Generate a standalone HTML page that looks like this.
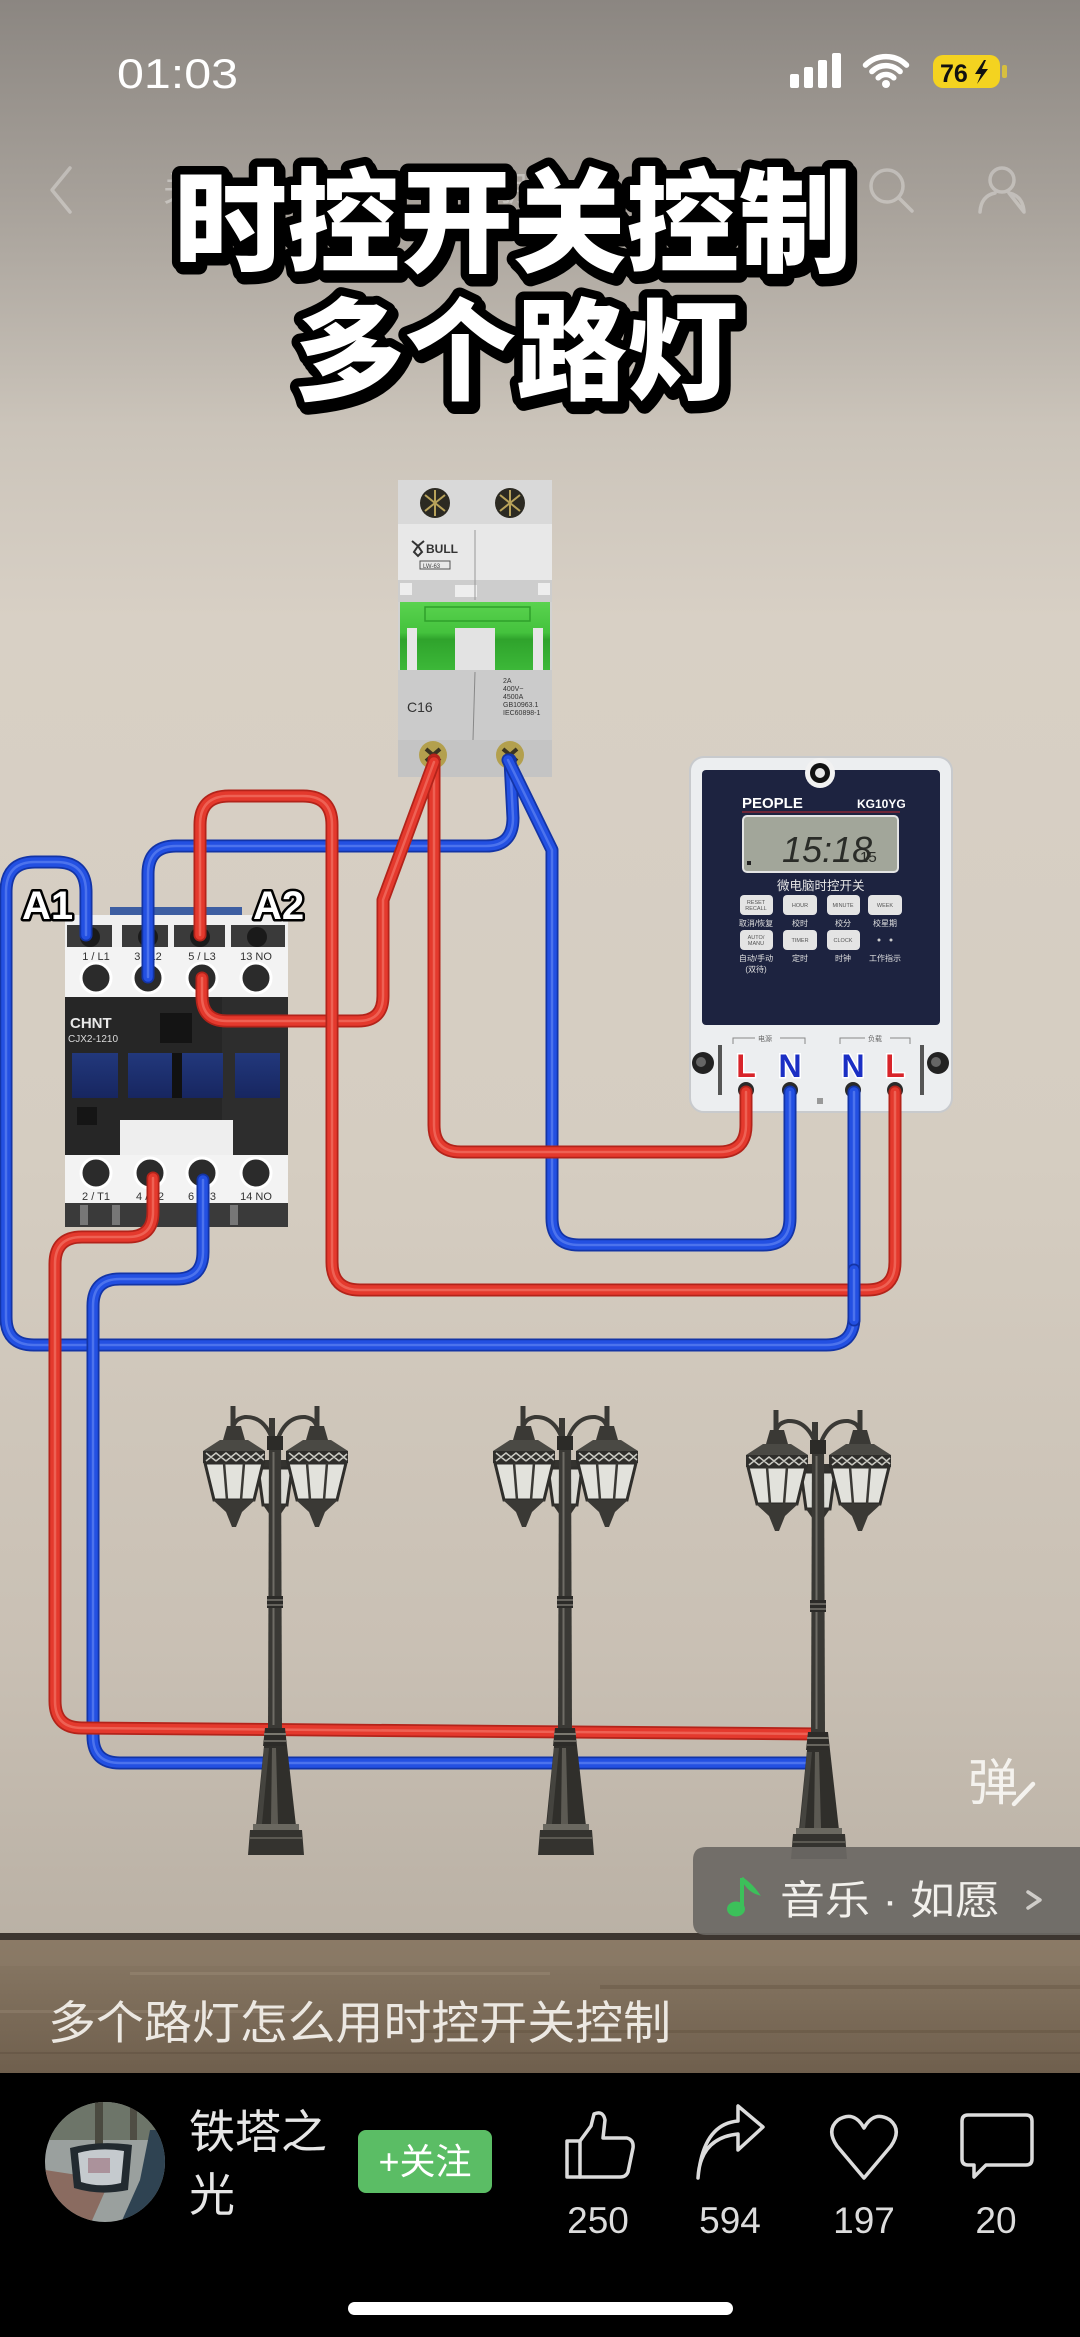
<!DOCTYPE html>
<html><head><meta charset="utf-8">
<style>
html,body{margin:0;padding:0;background:#000;}
svg{display:block;}
.cjk{font-family:"Liberation Sans","Noto Sans CJK SC",sans-serif;}
.lat{font-family:"Liberation Sans",sans-serif;}
.bb{stroke:#1334a6;stroke-width:13;fill:none;stroke-linecap:round;stroke-linejoin:round;}
.bm{stroke:#2350e2;stroke-width:9.5;fill:none;stroke-linecap:round;stroke-linejoin:round;}
.bh{stroke:#6f90f6;stroke-width:2.5;fill:none;stroke-linecap:round;stroke-linejoin:round;opacity:.55;}
.rb{stroke:#b3231a;stroke-width:13;fill:none;stroke-linecap:round;stroke-linejoin:round;}
.rm{stroke:#e4392d;stroke-width:9.5;fill:none;stroke-linecap:round;stroke-linejoin:round;}
.rh{stroke:#f68474;stroke-width:2.5;fill:none;stroke-linecap:round;stroke-linejoin:round;opacity:.55;}
</style></head>
<body>
<svg width="1080" height="2337" viewBox="0 0 1080 2337" xmlns="http://www.w3.org/2000/svg">
<defs>
  <linearGradient id="wall" x1="0" y1="0" x2="0" y2="1937" gradientUnits="userSpaceOnUse">
    <stop offset="0" stop-color="#8b8681"/>
    <stop offset="0.1" stop-color="#a6a099"/>
    <stop offset="0.22" stop-color="#cbc4ba"/>
    <stop offset="0.32" stop-color="#d8d0c5"/>
    <stop offset="0.6" stop-color="#d5cdc1"/>
    <stop offset="0.85" stop-color="#c9c0b4"/>
    <stop offset="1" stop-color="#bab1a5"/>
  </linearGradient>
  <linearGradient id="floor" x1="0" y1="1937" x2="0" y2="2073" gradientUnits="userSpaceOnUse">
    <stop offset="0" stop-color="#8a7a66"/>
    <stop offset="1" stop-color="#6f5f4d"/>
  </linearGradient>
  <linearGradient id="green" x1="0" y1="602" x2="0" y2="670" gradientUnits="userSpaceOnUse">
    <stop offset="0" stop-color="#5ad34f"/>
    <stop offset="0.45" stop-color="#44c23d"/>
    <stop offset="0.55" stop-color="#2fa32c"/>
    <stop offset="1" stop-color="#3cb838"/>
  </linearGradient>
  <linearGradient id="win" x1="0" y1="1053" x2="0" y2="1098" gradientUnits="userSpaceOnUse">
    <stop offset="0" stop-color="#22387c"/>
    <stop offset="1" stop-color="#172660"/>
  </linearGradient>
  <clipPath id="avc"><circle cx="105" cy="2162" r="60"/></clipPath>

  <path id="w1" d="M86 935 L86 892 Q86 862 56 862 L35 862 Q6 862 6 892 L6 1317 Q6 1345 34 1345 L826 1345 Q854 1345 854 1317 L854 1092"/>
  <path id="w1b" d="M854 1320 L854 1270"/>
  <path id="w3" d="M203 1180 L203 1252 Q203 1279 176 1279 L120 1279 Q93 1279 93 1306 L93 1736 Q93 1763 120 1763 L818 1763"/>
  <path id="w4" d="M148 977 L148 874 Q148 846 176 846 L486 846 Q513 846 513 818 L510 760"/>
  <path id="w5" d="M508 760 L552 850 L552 1218 Q552 1245 579 1245 L763 1245 Q790 1245 790 1218 L790 1092"/>
  <path id="w2" d="M153 1178 L153 1212 Q153 1237 128 1237 L82 1237 Q55 1237 55 1264 L55 1701 Q55 1728 82 1728 L818 1734"/>
  <path id="w6" d="M434 760 L434 1125 Q434 1152 461 1152 L719 1152 Q746 1152 746 1125 L746 1092"/>
  <path id="w7" d="M434 762 L383 900 L383 996 Q383 1021 358 1021 L227 1021 Q202 1021 202 996 L202 978"/>
  <path id="w8" d="M200 935 L200 825 Q200 796 229 796 L303 796 Q332 796 332 825 L332 1262 Q332 1290 360 1290 L867 1290 Q895 1290 895 1262 L895 1092"/>

  <g id="lamp">
    <path d="M-14 60 L14 60 L20 68 L-20 68 Z" fill="#34332f"/>
    <path d="M-17 68 L17 68 L12 105 L-12 105 Z" fill="#dcdcd6" stroke="#2f2e2b" stroke-width="3"/>
    <path d="M-12 105 L12 105 L3 118 L-3 118 Z" fill="#34332f"/>
    <path d="M0 48 Q-8 16 -30 17 Q-42 19 -42 30" stroke="#3a3935" stroke-width="4" fill="none"/>
    <path d="M0 48 Q8 16 30 17 Q42 19 42 30" stroke="#3a3935" stroke-width="4" fill="none"/>
    <line x1="-42" y1="6" x2="-42" y2="30" stroke="#3a3935" stroke-width="5"/>
    <line x1="42" y1="6" x2="42" y2="30" stroke="#3a3935" stroke-width="5"/>
    <line x1="-3" y1="18" x2="-3" y2="40" stroke="#3a3935" stroke-width="6"/>
    <path d="M-6 38 L6 38 L7 330 L-7 330 Z" fill="#3a3935"/>
    <rect x="-8" y="36" width="16" height="14" fill="#2c2b28"/>
    <line x1="-1.5" y1="52" x2="-1.5" y2="325" stroke="#6e6c65" stroke-width="2"/>
    <rect x="-8" y="196" width="16" height="12" fill="#2c2b28"/>
    <line x1="-8" y1="200" x2="8" y2="200" stroke="#77756d" stroke-width="1.5"/>
    <line x1="-8" y1="205" x2="8" y2="205" stroke="#77756d" stroke-width="1.5"/>
    <path d="M-10 328 L10 328 L12 346 L-12 346 Z" fill="#2c2b28"/>
    <line x1="-11" y1="334" x2="11" y2="334" stroke="#7a786f" stroke-width="2"/>
    <line x1="-11" y1="341" x2="11" y2="341" stroke="#7a786f" stroke-width="1.5"/>
    <path d="M-11 346 L12 346 L21 426 L-19 426 Z" fill="#302f2b"/>
    <path d="M-3 348 L1 348 L3 424 L-4 424 Z" fill="#5c5a53"/>
    <path d="M-11 348 L-6 348 L-13 424 L-18 424 Z" fill="#45443f"/>
    <rect x="-22" y="424" width="46" height="6" fill="#6a6860"/>
    <path d="M-25 430 L27 430 L29 455 L-27 455 Z" fill="#34332f"/>
    <line x1="-25" y1="438" x2="27" y2="438" stroke="#5b5952" stroke-width="2"/>
    <g transform="translate(-41,0)">
      <path d="M-7 26 L7 26 L11 40 L-11 40 Z" fill="#3a3935"/>
      <path d="M-14 40 L14 40 L31 51 L-31 51 Z" fill="#4a4944"/>
      <rect x="-31" y="51" width="62" height="12" fill="#2f2e2b"/>
      <path d="M-28 53 L-18 61 L-8 53 L2 61 L12 53 L22 61 L30 54 M-28 61 L-18 53 L-8 61 L2 53 L12 61 L22 53 L30 60" stroke="#c9c9c2" stroke-width="1.5" fill="none"/>
      <path d="M-29 63 L29 63 L20 100 L-20 100 Z" fill="#e2e2dc" stroke="#2f2e2b" stroke-width="3"/>
      <line x1="-10" y1="63" x2="-7" y2="100" stroke="#3a3935" stroke-width="2.5"/>
      <line x1="10" y1="63" x2="7" y2="100" stroke="#3a3935" stroke-width="2.5"/>
      <path d="M-21 100 L21 100 L8 112 L2 127 L-2 127 L-8 112 Z" fill="#3a3935"/>
    </g>
    <g transform="translate(42,0)">
      <path d="M-7 26 L7 26 L11 40 L-11 40 Z" fill="#3a3935"/>
      <path d="M-14 40 L14 40 L31 51 L-31 51 Z" fill="#4a4944"/>
      <rect x="-31" y="51" width="62" height="12" fill="#2f2e2b"/>
      <path d="M-28 53 L-18 61 L-8 53 L2 61 L12 53 L22 61 L30 54 M-28 61 L-18 53 L-8 61 L2 53 L12 61 L22 53 L30 60" stroke="#c9c9c2" stroke-width="1.5" fill="none"/>
      <path d="M-29 63 L29 63 L20 100 L-20 100 Z" fill="#e2e2dc" stroke="#2f2e2b" stroke-width="3"/>
      <line x1="-10" y1="63" x2="-7" y2="100" stroke="#3a3935" stroke-width="2.5"/>
      <line x1="10" y1="63" x2="7" y2="100" stroke="#3a3935" stroke-width="2.5"/>
      <path d="M-21 100 L21 100 L8 112 L2 127 L-2 127 L-8 112 Z" fill="#3a3935"/>
    </g>
  </g>
</defs>

<rect x="0" y="0" width="1080" height="1937" fill="url(#wall)"/>
<rect x="0" y="1933" width="1080" height="7" fill="#3d3630"/>
<rect x="0" y="1940" width="1080" height="133" fill="url(#floor)"/>
<rect x="0" y="1940" width="1080" height="26" fill="#8c7c68" opacity="0.6"/>
<rect x="130" y="1972" width="420" height="3" fill="#9a8a75" opacity="0.5"/>
<rect x="600" y="1985" width="480" height="4" fill="#685846" opacity="0.5"/>
<rect x="0" y="2010" width="300" height="3" fill="#938370" opacity="0.5"/>
<rect x="420" y="2030" width="660" height="3" fill="#63533f" opacity="0.5"/>
<rect x="0" y="2052" width="1080" height="2" fill="#5f503f" opacity="0.5"/>
<rect x="0" y="2073" width="1080" height="264" fill="#000"/>

<text x="117" y="88" class="lat" font-size="42" fill="#fff" textLength="121" lengthAdjust="spacingAndGlyphs">01:03</text>
<g fill="#fff">
  <rect x="790" y="74" width="9" height="14" rx="2"/>
  <rect x="804" y="67" width="9" height="21" rx="2"/>
  <rect x="818" y="60" width="9" height="28" rx="2"/>
  <rect x="832" y="53" width="9" height="35" rx="2"/>
</g>
<g fill="none" stroke="#fff" stroke-width="5.5" stroke-linecap="round">
  <path d="M878.2 77.8 A11 11 0 0 1 893.8 77.8"/>
  <path d="M871.9 71.5 A20 20 0 0 1 900.1 71.5"/>
  <path d="M865.5 65.1 A29 29 0 0 1 906.5 65.1"/>
</g>
<circle cx="886" cy="84" r="4" fill="#fff"/>
<rect x="933" y="55" width="67" height="33" rx="10" fill="#f4d320"/>
<rect x="1002" y="65" width="5" height="13" rx="2" fill="#f4d320" opacity="0.7"/>
<text x="940" y="82" class="lat" font-size="25" font-weight="bold" fill="#111">76</text>
<path d="M984 60 L975 74 L981 74 L977 84 L988 69 L982 69 L986 60 Z" fill="#111"/>

<g opacity="0.32" fill="none" stroke="#fff" stroke-width="3.5" stroke-linecap="round" stroke-linejoin="round">
  <path d="M70 168 L52 190 L70 212"/>
  <circle cx="887" cy="186" r="16"/>
  <path d="M899 198 L912 211"/>
  <circle cx="1002" cy="180" r="12"/>
  <path d="M980 212 Q981 196 995 193 M1009 193 Q1023 196 1024 212 Z"/>
</g>
<g class="cjk" font-size="34" fill="#fff" opacity="0.35">
  <text x="163" y="201">关注</text>
  <text x="324" y="201">同城</text>
  <text x="494" y="201">朋友</text>
  <text x="690" y="201" font-size="38" font-weight="bold">推荐</text>
</g>

<g class="cjk" font-weight="900" text-anchor="middle" fill="#000" stroke="#000" stroke-width="17" stroke-linejoin="round">
  <text x="516" y="267" font-size="113">时控开关控制</text>
  <text x="519" y="395" font-size="111">多个路灯</text>
</g>
<g class="cjk" font-weight="900" text-anchor="middle" fill="#fff" stroke="#000" stroke-width="17" stroke-linejoin="round" paint-order="stroke">
  <text x="513" y="263" font-size="113">时控开关控制</text>
  <text x="516" y="391" font-size="111">多个路灯</text>
</g>

<g>
  <rect x="398" y="480" width="154" height="297" fill="#d2d2d2"/>
  <rect x="398" y="480" width="154" height="44" fill="#d9d9d9"/>
  <circle cx="435" cy="503" r="15" fill="#2c2a22"/>
  <circle cx="510" cy="503" r="15" fill="#2c2a22"/>
  <path d="M425 495 L445 511 M445 495 L425 511 M435 490 L435 516" stroke="#b8a25a" stroke-width="2"/>
  <path d="M500 495 L520 511 M520 495 L500 511 M510 490 L510 516" stroke="#b8a25a" stroke-width="2"/>
  <rect x="398" y="524" width="154" height="56" fill="#e8e8e8"/>
  <path d="M412 541 L418 546 L414 552 L418 556 L422 552 L418 546 L424 541" fill="none" stroke="#333" stroke-width="2"/>
  <text x="426" y="553" class="lat" font-size="12" font-weight="bold" fill="#333">BULL</text>
  <rect x="420" y="561" width="30" height="8" fill="none" stroke="#555" stroke-width="1"/>
  <text x="423" y="568" class="lat" font-size="6" fill="#444">LW-63</text>
  <rect x="398" y="580" width="154" height="22" fill="#cdcdcd"/>
  <rect x="400" y="583" width="12" height="12" fill="#eee"/>
  <rect x="455" y="585" width="22" height="12" fill="#eee"/>
  <rect x="538" y="583" width="12" height="12" fill="#eee"/>
  <rect x="400" y="602" width="150" height="68" fill="url(#green)"/>
  <rect x="425" y="607" width="105" height="14" fill="none" stroke="#2fa02b" stroke-width="1.5"/>
  <rect x="407" y="628" width="10" height="44" fill="#e6e6e6"/>
  <rect x="455" y="628" width="40" height="44" fill="#e3e3e3"/>
  <rect x="533" y="628" width="10" height="44" fill="#e6e6e6"/>
  <rect x="398" y="670" width="154" height="107" fill="#cbcbcb"/>
  <rect x="398" y="740" width="154" height="37" fill="#c4c4c4"/>
  <line x1="475" y1="530" x2="475" y2="600" stroke="#999" stroke-width="1"/>
  <line x1="475" y1="672" x2="473" y2="740" stroke="#888" stroke-width="1"/>
  <text x="407" y="712" class="lat" font-size="14" fill="#333">C16</text>
  <g class="lat" font-size="7" fill="#333">
    <text x="503" y="683">2A</text>
    <text x="503" y="691">400V~</text>
    <text x="503" y="699">4500A</text>
    <text x="503" y="707">GB10963.1</text>
    <text x="503" y="715">IEC60898-1</text>
  </g>
  <circle cx="433" cy="755" r="14" fill="#b3a04e"/>
  <circle cx="510" cy="755" r="14" fill="#b3a04e"/>
  <path d="M426 749 L440 761 M440 749 L426 761" stroke="#3a3422" stroke-width="4"/>
  <path d="M503 749 L517 761 M517 749 L503 761" stroke="#3a3422" stroke-width="4"/>
</g>

<g>
  <rect x="110" y="907" width="132" height="10" fill="#3d5ea2"/>
  <rect x="65" y="915" width="223" height="10" fill="#f0f0f0"/>
  <rect x="65" y="925" width="223" height="22" fill="#f0f0f0"/>
  <rect x="67" y="925" width="45" height="22" fill="#3a3a3a"/>
  <rect x="120" y="925" width="55" height="22" fill="#3a3a3a"/>
  <rect x="172" y="925" width="55" height="22" fill="#3a3a3a"/>
  <rect x="230" y="925" width="55" height="22" fill="#3a3a3a"/>
  <rect x="116" y="925" width="6" height="22" fill="#f0f0f0"/>
  <rect x="168" y="925" width="6" height="22" fill="#f0f0f0"/>
  <rect x="225" y="925" width="6" height="22" fill="#f0f0f0"/>
  <circle cx="90" cy="937" r="10" fill="#1a1a1a"/>
  <circle cx="148" cy="937" r="10" fill="#1a1a1a"/>
  <circle cx="200" cy="937" r="10" fill="#1a1a1a"/>
  <circle cx="257" cy="937" r="10" fill="#1a1a1a"/>
  <rect x="65" y="947" width="223" height="50" fill="#f3f3f3"/>
  <g class="lat" font-size="11" fill="#333" text-anchor="middle">
    <text x="96" y="960">1 / L1</text>
    <text x="148" y="960">3 / L2</text>
    <text x="202" y="960">5 / L3</text>
    <text x="256" y="960">13 NO</text>
  </g>
  <g fill="#2b2b2b" stroke="#fff" stroke-width="3">
    <circle cx="96" cy="978" r="15"/>
    <circle cx="148" cy="978" r="15"/>
    <circle cx="202" cy="978" r="15"/>
    <circle cx="256" cy="978" r="15"/>
  </g>
  <rect x="65" y="997" width="223" height="158" fill="#262626"/>
  <rect x="222" y="997" width="66" height="158" fill="#2d2d2d"/>
  <text x="70" y="1028" class="lat" font-size="15" font-weight="bold" fill="#e8e8e8">CHNT</text>
  <text x="68" y="1042" class="lat" font-size="10" fill="#dcdcdc">CJX2-1210</text>
  <rect x="160" y="1013" width="32" height="30" fill="#141414"/>
  <rect x="72" y="1053" width="46" height="45" fill="url(#win)"/>
  <rect x="128" y="1053" width="44" height="45" fill="url(#win)"/>
  <rect x="182" y="1053" width="41" height="45" fill="url(#win)"/>
  <rect x="235" y="1053" width="45" height="45" fill="url(#win)"/>
  <rect x="172" y="1053" width="10" height="45" fill="#111"/>
  <rect x="77" y="1107" width="20" height="18" fill="#151515"/>
  <rect x="120" y="1120" width="113" height="35" fill="#eeeeee"/>
  <rect x="65" y="1155" width="223" height="48" fill="#f3f3f3"/>
  <g fill="#2b2b2b" stroke="#fff" stroke-width="3">
    <circle cx="96" cy="1173" r="15"/>
    <circle cx="150" cy="1173" r="15"/>
    <circle cx="202" cy="1173" r="15"/>
    <circle cx="256" cy="1173" r="15"/>
  </g>
  <g class="lat" font-size="11" fill="#333" text-anchor="middle">
    <text x="96" y="1200">2 / T1</text>
    <text x="150" y="1200">4 / T2</text>
    <text x="202" y="1200">6 / T3</text>
    <text x="256" y="1200">14 NO</text>
  </g>
  <rect x="65" y="1203" width="223" height="24" fill="#3a3a3a"/>
  <rect x="80" y="1205" width="8" height="20" fill="#777"/>
  <rect x="112" y="1205" width="8" height="20" fill="#777"/>
  <rect x="230" y="1205" width="8" height="20" fill="#777"/>
</g>
<g class="lat" font-size="40" font-weight="bold" fill="#fff" stroke="#000" stroke-width="5" stroke-linejoin="round" paint-order="stroke">
  <text x="22" y="919">A1</text>
  <text x="253" y="919">A2</text>
</g>

<g>
  <rect x="690" y="757" width="262" height="355" rx="14" fill="#eceef0" stroke="#c8cacd" stroke-width="2"/>
  <rect x="702" y="770" width="238" height="255" rx="4" fill="#1d2340"/>
  <circle cx="820" cy="773" r="15" fill="#f2f2f2"/>
  <circle cx="820" cy="773" r="10" fill="#111"/>
  <circle cx="820" cy="773" r="5" fill="#e6e6e6"/>
  <text x="742" y="808" class="lat" font-size="15" font-weight="bold" fill="#fff">PEOPLE</text>
  <text x="857" y="808" class="lat" font-size="12" font-weight="bold" fill="#fff">KG10YG</text>
  <line x1="742" y1="812" x2="900" y2="812" stroke="#8a2835" stroke-width="1.5"/>
  <rect x="743" y="816" width="155" height="56" rx="4" fill="#a2a69a" stroke="#e4e4e4" stroke-width="2"/>
  <text x="782" y="862" class="lat" font-size="36" fill="#2a2c28" font-style="italic">15:18</text>
  <text x="860" y="862" class="lat" font-size="15" fill="#2a2c28">15</text>
  <rect x="747" y="861" width="4" height="4" fill="#222"/>
  <text x="777" y="890" class="cjk" font-size="12.5" fill="#e6e6e6">微电脑时控开关</text>
  <g fill="#e4e4e4">
    <rect x="740" y="895" width="33" height="20" rx="4"/>
    <rect x="783" y="895" width="34" height="20" rx="4"/>
    <rect x="827" y="895" width="33" height="20" rx="4"/>
    <rect x="868" y="895" width="34" height="20" rx="4"/>
    <rect x="740" y="930" width="33" height="20" rx="4"/>
    <rect x="783" y="930" width="34" height="20" rx="4"/>
    <rect x="827" y="930" width="33" height="20" rx="4"/>
  </g>
  <g class="lat" font-size="5.5" fill="#555" text-anchor="middle">
    <text x="756" y="904">RESET</text><text x="756" y="910">RECALL</text>
    <text x="800" y="907">HOUR</text>
    <text x="843" y="907">MINUTE</text>
    <text x="885" y="907">WEEK</text>
    <text x="756" y="939">AUTO/</text><text x="756" y="945">MANU</text>
    <text x="800" y="942">TIMER</text>
    <text x="843" y="942">CLOCK</text>
  </g>
  <circle cx="879" cy="940" r="1.5" fill="#ccc"/>
  <circle cx="891" cy="940" r="1.5" fill="#ccc"/>
  <g class="cjk" font-size="8" fill="#e0e0e0" text-anchor="middle">
    <text x="756" y="926">取消/恢复</text>
    <text x="800" y="926">校时</text>
    <text x="843" y="926">校分</text>
    <text x="885" y="926">校星期</text>
    <text x="756" y="961">自动/手动</text>
    <text x="756" y="972">(双待)</text>
    <text x="800" y="961">定时</text>
    <text x="843" y="961">时钟</text>
    <text x="885" y="961">工作指示</text>
  </g>
  <path d="M733 1044 L733 1038 L755 1038 M780 1038 L805 1038 L805 1044" stroke="#888" stroke-width="1" fill="none"/>
  <path d="M840 1044 L840 1038 L865 1038 M890 1038 L910 1038 L910 1044" stroke="#888" stroke-width="1" fill="none"/>
  <text x="758" y="1041" class="cjk" font-size="7" fill="#666">电源</text>
  <text x="868" y="1041" class="cjk" font-size="7" fill="#666">负载</text>
  <rect x="718" y="1045" width="4" height="50" fill="#555"/>
  <rect x="920" y="1045" width="4" height="50" fill="#555"/>
  <circle cx="703" cy="1063" r="11" fill="#222"/>
  <circle cx="701" cy="1062" r="5" fill="#666"/>
  <circle cx="938" cy="1063" r="11" fill="#222"/>
  <circle cx="936" cy="1062" r="5" fill="#666"/>
  <g class="lat" font-size="32" font-weight="bold" text-anchor="middle" stroke="#fff" stroke-width="3" paint-order="stroke">
    <text x="746" y="1077" fill="#d8242a">L</text>
    <text x="790" y="1077" fill="#1b2fc4">N</text>
    <text x="853" y="1077" fill="#1b2fc4">N</text>
    <text x="895" y="1077" fill="#d8242a">L</text>
  </g>
  <g fill="#2a2a2a">
    <circle cx="746" cy="1090" r="8"/>
    <circle cx="790" cy="1090" r="8"/>
    <circle cx="853" cy="1090" r="8"/>
    <circle cx="895" cy="1090" r="8"/>
  </g>
  <rect x="817" y="1098" width="6" height="6" fill="#999"/>
</g>

<use href="#w1" class="bb"/><use href="#w1" class="bm"/><use href="#w1" class="bh"/>
<use href="#w3" class="bb"/><use href="#w3" class="bm"/><use href="#w3" class="bh"/>
<use href="#w4" class="bb"/><use href="#w4" class="bm"/><use href="#w4" class="bh"/>
<use href="#w5" class="bb"/><use href="#w5" class="bm"/><use href="#w5" class="bh"/>
<use href="#w2" class="rb"/><use href="#w2" class="rm"/><use href="#w2" class="rh"/>
<use href="#w6" class="rb"/><use href="#w6" class="rm"/><use href="#w6" class="rh"/>
<use href="#w7" class="rb"/><use href="#w7" class="rm"/><use href="#w7" class="rh"/>
<use href="#w8" class="rb"/><use href="#w8" class="rm"/><use href="#w8" class="rh"/>
<use href="#w1b" class="bb"/><use href="#w1b" class="bm"/><use href="#w1b" class="bh"/>

<use href="#lamp" transform="translate(275,1400)"/>
<use href="#lamp" transform="translate(565,1400)"/>
<use href="#lamp" transform="translate(818,1404)"/>

<text x="968" y="1800" class="cjk" font-size="50" fill="#f4f2ee">弹</text>
<line x1="1014" y1="1804" x2="1033" y2="1784" stroke="#f4f2ee" stroke-width="4.5" stroke-linecap="round"/>

<path d="M706 1847 L1080 1847 L1080 1935 L706 1935 Q693 1935 693 1922 L693 1860 Q693 1847 706 1847 Z" fill="#6c6864" opacity="0.93"/>
<path d="M742 1878 L742 1908" stroke="#3cc05a" stroke-width="4"/>
<ellipse cx="736" cy="1909" rx="9" ry="7.5" fill="#3cc05a"/>
<path d="M742 1878 Q748 1890 757 1893 Q752 1886 744 1880 Z" fill="#3cc05a" stroke="#3cc05a" stroke-width="3"/>
<text x="780" y="1914" class="cjk" font-size="40" fill="#f2f0ec" textLength="220" lengthAdjust="spacingAndGlyphs">音乐 · 如愿</text>
<path d="M1028 1892 L1040 1900 L1028 1908" stroke="#cfcdc9" stroke-width="3.5" fill="none" stroke-linecap="round" stroke-linejoin="round"/>

<text x="48" y="2039" class="cjk" font-size="46" fill="#ece8e2" textLength="623" lengthAdjust="spacingAndGlyphs">多个路灯怎么用时控开关控制</text>

<g clip-path="url(#avc)">
  <rect x="45" y="2100" width="120" height="125" fill="#9aa09e"/>
  <rect x="45" y="2100" width="120" height="40" fill="#6d7569"/>
  <rect x="95" y="2100" width="8" height="45" fill="#4a4a40"/>
  <rect x="130" y="2100" width="7" height="40" fill="#4f4d44"/>
  <path d="M45 2170 L110 2180 L90 2225 L45 2225 Z" fill="#8a6b60"/>
  <path d="M150 2130 L165 2130 L165 2225 L120 2225 L140 2180 Z" fill="#2f4352"/>
  <path d="M70 2148 Q100 2140 132 2145 L128 2190 Q100 2196 74 2188 Z" fill="#222a30"/>
  <path d="M78 2153 Q100 2147 124 2151 L121 2183 Q100 2188 81 2182 Z" fill="#c5cace"/>
  <rect x="88" y="2158" width="22" height="15" fill="#a07a86" opacity="0.7"/>
</g>

<text x="189" y="2148" class="cjk" font-size="46" fill="#e6e6e6">铁塔之</text>
<text x="189" y="2211" class="cjk" font-size="46" fill="#e6e6e6">光</text>

<rect x="358" y="2130" width="134" height="63" rx="8" fill="#5bbd65"/>
<text x="425" y="2174" class="cjk" font-size="36" fill="#fff" text-anchor="middle">+关注</text>

<g fill="none" stroke="#dcdcdc" stroke-width="3.5" stroke-linejoin="round" stroke-linecap="round">
  <path d="M567 2141 L580 2141 L580 2177 L567 2177 Z"/>
  <path d="M580 2141 L591 2126 L594 2114 Q603 2110 605 2120 L603 2138 L627 2138 Q634 2140 633 2148 L628 2172 Q626 2177 620 2177 L580 2177"/>
  <path d="M698 2178 Q700 2138 738 2134 L738 2150 L763 2127 L738 2106 L738 2121 Q703 2124 698 2178 Z"/>
  <path d="M864 2178 L837 2146 Q826 2130 838 2120 Q854 2110 864 2128 Q874 2110 890 2120 Q902 2130 891 2146 Z"/>
  <path d="M968 2115 L1026 2115 Q1032 2115 1032 2121 L1032 2159 Q1032 2165 1026 2165 L986 2165 L974 2177 L974 2165 L968 2165 Q962 2165 962 2159 L962 2121 Q962 2115 968 2115 Z"/>
</g>
<g class="lat" font-size="37" fill="#dcdcdc" text-anchor="middle">
  <text x="598" y="2233">250</text>
  <text x="730" y="2233">594</text>
  <text x="864" y="2233">197</text>
  <text x="996" y="2233">20</text>
</g>

<rect x="348" y="2302" width="385" height="13" rx="6.5" fill="#fff"/>
</svg>
</body></html>
